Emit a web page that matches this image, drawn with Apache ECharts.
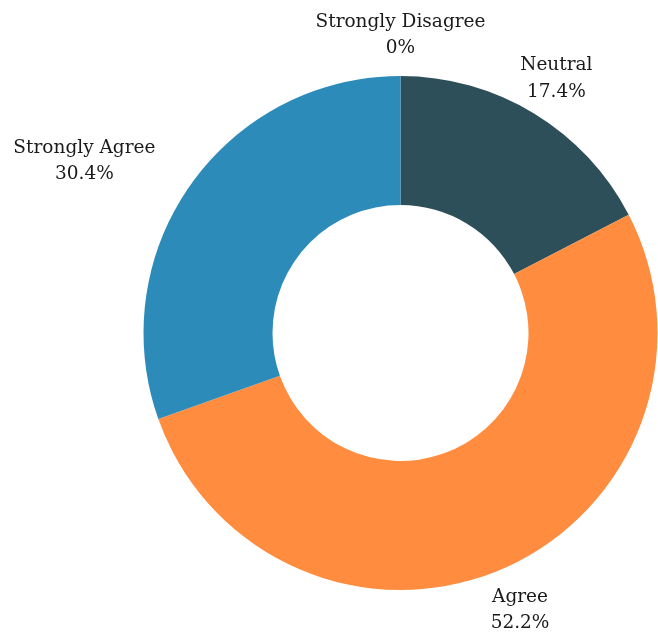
<!DOCTYPE html>
<html>
<head>
<meta charset="utf-8">
<script src="https://cdn.jsdelivr.net/npm/echarts@6/dist/echarts.min.js"></script>
<style>
  html, body { margin: 0; padding: 0; background: #ffffff; }
  #chart { width: 658px; height: 637px; }
</style>
</head>
<body>
<div id="chart"></div>
<script>
// Survey responses (counts), clockwise from the top
const categories = ['Strongly Disagree', 'Neutral', 'Agree', 'Strongly Agree'];
const counts = [0, 4, 12, 7];
const colors = ['#e0e0e0', '#2d4f5a', '#ff8c3f', '#2d8bba'];

const total = counts.reduce((a, b) => a + b, 0);
const pct = v => {
  const p = Math.round(v / total * 1000) / 10;
  return (p === 0 ? '0' : p.toFixed(1)) + '%';
};

const chart = echarts.init(document.getElementById('chart'), null, { renderer: 'canvas' });

chart.setOption({
  backgroundColor: '#ffffff',
  animation: false,
  series: [{
    type: 'pie',
    center: [400.5, 333],
    radius: [128, 257],
    startAngle: 90,
    clockwise: true,
    avoidLabelOverlap: false,
    minAngle: 0,
    data: categories.map((name, i) => ({
      name,
      value: counts[i],
      itemStyle: { color: colors[i] }
    })),
    itemStyle: { borderWidth: 0 },
    emphasis: { disabled: true },
    label: {
      show: true,
      position: 'outside',
      distanceToLabelLine: 0,
      formatter: p => '{c|' + p.name + '}\n{c|' + pct(p.value) + '}',
      fontFamily: '"DejaVu Serif", serif',
      fontSize: 18.5,
      lineHeight: 26.5,
      color: '#1a1a1a',
      rich: {
        c: {
          align: 'center',
          fontFamily: '"DejaVu Serif", serif',
          fontSize: 18.5,
          lineHeight: 26.5,
          color: '#1a1a1a'
        }
      }
    },
    labelLine: { show: false, length: 43, length2: 0 },
    // the left-hand label hugs the ring; the others sit centred on their slice
    labelLayout: p => (p.dataIndex === 3 ? { align: 'right', dy: 1 } : { align: 'center', dy: 2 })
  }]
});
</script>
</body>
</html>
